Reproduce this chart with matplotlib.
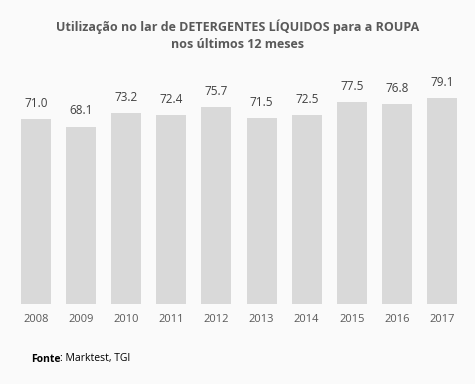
import matplotlib
matplotlib.use("Agg")
import matplotlib.pyplot as plt

years = ["2008", "2009", "2010", "2011", "2012", "2013", "2014", "2015", "2016", "2017"]
values = [71.0, 68.1, 73.2, 72.4, 75.7, 71.5, 72.5, 77.5, 76.8, 79.1]

W, H = 475, 384
BG = "#fafafa"
GREY = "#595959"
plt.rcParams["font.family"] = ["Open Sans", "DejaVu Sans"]

fig = plt.figure(figsize=(W / 100, H / 100), dpi=100, facecolor=BG)
# axes placed in pixel coordinates: x from 13.4 to 464.6, zero line at y=304
left, right = 13.4, 464.6
bottom_px, top_px = 304, 69.5
ax = fig.add_axes([left / W, 1 - bottom_px / H, (right - left) / W, (bottom_px - top_px) / H])
ax.set_facecolor(BG)

x = range(len(years))
ax.bar(x, values, width=0.665, color="#d9d9d9")
for i, v in zip(x, values):
    ax.text(i, v + 3.5, f"{v:.1f}", ha="center", va="bottom", fontsize=8.5, color="#404040")

ax.set_xlim(-0.5, len(years) - 0.5)
ax.set_ylim(0, 90)
ax.set_xticks(list(x))
ax.set_xticklabels(years, fontsize=8, color=GREY)
ax.tick_params(axis="x", length=0, pad=7)
ax.set_yticks([])
for s in ax.spines.values():
    s.set_visible(False)

fig.text(0.5, 1 - 27 / H, "Utilização no lar de DETERGENTES LÍQUIDOS para a ROUPA",
         ha="center", va="center", fontsize=9, fontweight="bold", color=GREY)
fig.text(0.5, 1 - 44 / H, "nos últimos 12 meses",
         ha="center", va="center", fontsize=9, fontweight="bold", color=GREY)

t = fig.text(31 / W, 1 - 359 / H, "Fonte", ha="left", va="center", fontsize=7.5,
             fontweight="bold", color="black")
fig.canvas.draw()
bb = t.get_window_extent()
fig.text(bb.x1 / W, 1 - 359 / H, ": Marktest, TGI", ha="left", va="center",
         fontsize=7.5, color="black")

fig.savefig("out.png", dpi=100, facecolor=BG)
